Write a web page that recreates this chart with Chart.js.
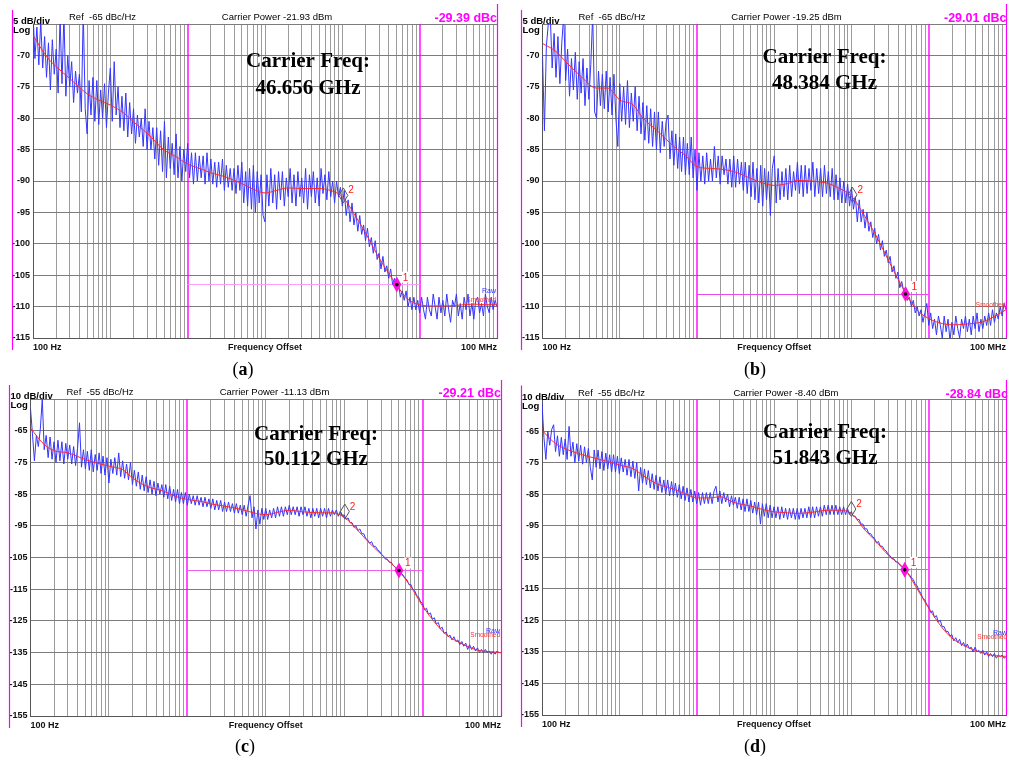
<!DOCTYPE html>
<html>
<head>
<meta charset="utf-8">
<title>Phase noise</title>
<script src="https://cdn.jsdelivr.net/npm/chart.js@4.4.0/dist/chart.umd.min.js"></script>
<style>
body{margin:0;background:#fff;width:1010px;height:760px;position:relative;overflow:hidden}
canvas{position:absolute}
</style>
</head>
<body>
<canvas id="pa" width="505" height="380" style="left:0;top:0"></canvas>
<canvas id="pb" width="505" height="380" style="left:505px;top:0"></canvas>
<canvas id="pc" width="505" height="380" style="left:0;top:380px"></canvas>
<canvas id="pd" width="505" height="380" style="left:505px;top:380px"></canvas>
<script>
// sample points of the raw trace: 40 per decade, 100 Hz .. 100 MHz
var rawMant = [1,1.059,1.122,1.189,1.259,1.334,1.413,1.496,1.585,1.679,1.778,1.884,1.995,2.113,2.239,2.371,2.512,2.661,2.818,2.985,
  3.162,3.350,3.548,3.758,3.981,4.217,4.467,4.732,5.012,5.309,5.623,5.957,6.310,6.683,7.079,7.499,7.943,8.414,8.913,9.441];
var decades = [100, 1e3, 1e4, 1e5, 1e6, 1e7];
var freqRaw = [];
decades.forEach(function(d){ rawMant.forEach(function(m){ freqRaw.push(m * d); }); });
freqRaw.push(1e8);

// offset frequencies of the smoothed trace (Hz)
var freqSm = [100,150,200,300,500,700,1e3,1.5e3,2e3,3e3,5e3,7e3,1e4,1.5e4,2e4,3e4,5e4,7e4,1e5,1.5e5,2e5,3e5,5e5,7e5,
  1e6,1.5e6,2e6,3e6,5e6,7e6,1e7,1.5e7,2e7,3e7,5e7,7e7,1e8];

// raw phase noise (dBc/Hz), one line per half decade
var rawA = [
  -63.0,-70.5,-65.5,-71.5,-64.5,-72.0,-67.0,-73.5,-68.0,-75.5,-67.5,-73.0,-69.0,-76.0,-64.0,-74.5,-63.5,-76.5,-70.0,-75.0,
  -71.0,-77.5,-72.5,-76.0,-73.0,-79.0,-63.0,-78.5,-82.5,-74.0,-79.5,-73.5,-80.5,-74.0,-81.0,-75.5,-80.0,-74.5,-81.5,-76.0,
  -72.0,-80.5,-71.0,-79.5,-75.0,-81.5,-76.5,-82.0,-76.0,-83.0,-77.5,-82.5,-78.5,-84.0,-79.5,-83.0,-80.0,-84.5,-78.5,-85.0,
  -80.5,-85.0,-81.5,-86.5,-81.5,-87.5,-82.0,-88.5,-80.5,-89.5,-83.0,-88.0,-84.0,-89.0,-82.5,-89.5,-84.5,-90.0,-85.0,-88.5,
  -84.0,-89.5,-85.5,-90.5,-85.5,-90.0,-86.0,-89.5,-86.0,-90.5,-85.5,-90.0,-86.5,-90.5,-87.0,-91.0,-87.0,-90.5,-86.5,-91.5,
  -87.5,-91.0,-88.0,-91.5,-88.0,-92.0,-87.5,-91.5,-87.0,-93.5,-88.5,-94.0,-88.0,-94.5,-87.5,-95.0,-88.5,-93.5,-89.0,-95.5,
  -96.5,-89.0,-94.0,-88.0,-93.5,-89.0,-94.5,-88.5,-93.0,-88.5,-94.0,-89.5,-92.5,-88.0,-93.5,-89.0,-94.0,-88.5,-92.5,-89.5,
  -93.5,-88.0,-94.5,-89.0,-92.5,-88.5,-93.5,-89.5,-94.0,-88.0,-92.0,-89.0,-93.0,-88.5,-92.5,-90.0,-93.5,-90.0,-92.5,-91.0,
  -94.0,-91.5,-95.5,-93.0,-96.5,-93.5,-97.0,-95.0,-98.0,-95.5,-98.5,-97.0,-99.5,-97.5,-100.5,-99.0,-101.5,-99.5,-102.5,-101.5,
  -104.0,-102.0,-104.5,-103.5,-105.5,-104.0,-106.5,-105.5,-107.5,-106.0,-108.5,-107.5,-109.0,-107.5,-110.0,-108.5,-110.5,-108.5,-110.5,-109.0,
  -111.0,-108.5,-110.5,-112.0,-108.5,-110.5,-111.5,-108.0,-110.0,-112.0,-108.5,-111.0,-109.0,-111.5,-108.0,-110.5,-112.5,-109.0,-110.0,-108.0,
  -111.5,-109.5,-112.0,-108.5,-110.5,-108.0,-111.5,-109.5,-112.0,-109.0,-108.5,-111.0,-109.5,-111.5,-108.0,-110.0,-111.0,-108.5,-110.5,-109.0,
  -110.0
];
var rawB = [
  -70.0,-82.0,-68.5,-65.0,-63.5,-72.0,-66.5,-73.5,-67.0,-74.5,-68.0,-63.5,-74.0,-69.0,-76.5,-70.5,-75.5,-69.5,-77.0,-71.0,
  -76.0,-70.5,-78.0,-72.0,-77.0,-71.5,-63.5,-79.0,-80.0,-72.5,-78.0,-73.0,-78.5,-72.5,-79.0,-73.5,-79.5,-73.0,-80.0,-84.5,
  -74.5,-80.5,-75.0,-81.0,-74.0,-81.5,-76.0,-80.5,-75.0,-82.0,-76.5,-82.5,-77.5,-83.5,-78.0,-84.0,-78.5,-84.5,-79.0,-85.0,
  -79.0,-85.5,-80.5,-84.5,-80.5,-79.5,-86.5,-82.0,-87.5,-82.5,-88.0,-83.0,-88.5,-83.0,-89.0,-84.0,-89.0,-83.0,-89.5,-85.0,
  -91.5,-85.5,-90.0,-86.0,-90.5,-85.5,-90.0,-86.5,-90.0,-84.5,-89.5,-86.0,-90.5,-86.0,-89.0,-86.5,-90.5,-86.5,-91.0,-86.0,
  -91.0,-86.5,-90.5,-87.0,-91.5,-87.0,-92.0,-87.5,-92.5,-87.0,-93.0,-88.0,-93.5,-87.5,-94.0,-88.0,-93.0,-88.5,-95.5,-88.0,
  -86.0,-93.5,-88.0,-93.0,-88.5,-92.5,-88.0,-93.0,-87.5,-92.5,-88.5,-91.5,-87.0,-92.0,-87.5,-92.5,-87.5,-92.0,-88.0,-91.5,
  -87.0,-92.5,-88.0,-92.0,-88.0,-92.5,-87.5,-92.0,-88.5,-92.5,-88.0,-93.0,-89.0,-93.0,-89.5,-93.5,-90.0,-93.5,-90.5,-94.0,
  -91.0,-94.5,-92.5,-96.5,-93.0,-96.5,-94.5,-97.5,-95.0,-98.0,-96.5,-99.0,-97.5,-100.0,-98.5,-101.0,-99.5,-102.0,-101.0,-103.0,
  -102.0,-104.5,-103.5,-105.5,-104.5,-107.0,-106.0,-107.5,-107.0,-109.0,-108.5,-110.0,-109.0,-111.0,-110.0,-111.5,-110.5,-112.5,-111.0,-109.5,
  -113.0,-111.0,-113.5,-112.0,-114.5,-111.5,-113.0,-115.0,-111.5,-114.0,-112.0,-115.5,-112.5,-114.5,-111.5,-113.5,-115.0,-112.0,-113.5,-111.5,
  -114.0,-112.0,-114.5,-111.5,-113.5,-111.0,-114.0,-112.0,-113.5,-111.5,-113.0,-111.0,-113.0,-110.5,-112.5,-111.0,-112.0,-110.0,-111.5,-109.5,
  -110.5
];
var rawC = [
  -58.0,-66.0,-74.5,-66.5,-70.0,-64.5,-55.0,-71.0,-66.5,-73.5,-67.0,-74.0,-68.5,-75.0,-68.0,-74.5,-68.5,-75.5,-69.0,-74.0,
  -69.5,-75.5,-70.0,-76.0,-70.5,-62.5,-76.5,-71.0,-77.0,-71.5,-77.5,-71.0,-78.0,-72.5,-77.5,-72.0,-78.5,-73.0,-79.0,-73.5,
  -81.5,-74.0,-78.5,-73.5,-79.0,-72.0,-79.5,-74.5,-80.0,-75.5,-80.5,-75.0,-82.0,-77.5,-82.5,-78.0,-83.5,-79.0,-84.0,-79.5,
  -84.5,-80.5,-85.0,-81.0,-85.5,-81.5,-85.0,-82.0,-86.0,-82.0,-86.5,-82.5,-87.0,-83.5,-87.5,-83.5,-88.0,-84.5,-88.0,-84.5,
  -88.5,-85.0,-88.0,-85.5,-88.5,-85.5,-88.5,-86.0,-89.0,-86.0,-89.0,-86.5,-89.5,-86.5,-90.0,-87.0,-90.0,-87.0,-90.5,-87.5,
  -90.5,-87.5,-90.5,-88.0,-91.0,-88.0,-91.0,-88.5,-91.5,-88.5,-92.0,-88.5,-85.5,-92.5,-89.0,-96.0,-90.0,-94.5,-89.5,-93.0,
  -89.5,-93.0,-90.0,-92.5,-89.5,-92.5,-89.0,-92.0,-89.0,-92.0,-89.0,-91.5,-88.5,-91.5,-89.0,-91.5,-89.0,-92.0,-89.0,-91.5,
  -89.0,-92.0,-89.5,-92.5,-89.5,-92.0,-89.5,-92.5,-89.5,-92.0,-89.5,-92.5,-89.5,-92.0,-90.0,-91.5,-90.0,-92.0,-90.5,-92.0,
  -91.5,-93.0,-92.5,-94.0,-94.0,-95.5,-95.0,-96.5,-96.0,-97.5,-97.5,-99.0,-99.5,-100.5,-100.0,-101.5,-101.5,-102.5,-103.0,-104.0,
  -104.5,-105.5,-105.5,-106.5,-106.5,-107.5,-108.0,-109.0,-109.0,-110.0,-110.5,-111.5,-112.0,-113.5,-113.5,-115.0,-115.5,-117.0,-117.5,-119.0,
  -119.5,-121.5,-121.0,-123.0,-122.5,-124.5,-124.0,-126.0,-125.5,-127.5,-127.0,-129.0,-128.5,-130.0,-129.5,-131.0,-130.0,-131.5,-131.0,-132.5,
  -131.5,-133.0,-132.0,-134.0,-132.5,-134.0,-133.0,-134.5,-133.5,-135.0,-134.0,-135.0,-134.0,-135.0,-134.5,-135.5,-134.5,-135.5,-134.5,-135.0,
  -135.0
];
var rawD = [
  -56.0,-67.0,-74.0,-65.0,-69.5,-64.5,-63.0,-71.5,-66.5,-73.0,-67.0,-72.5,-67.5,-74.0,-63.5,-73.0,-68.5,-75.0,-69.0,-74.5,
  -69.5,-75.5,-70.0,-75.0,-70.5,-76.5,-80.5,-71.0,-76.5,-71.0,-77.0,-71.5,-77.5,-72.0,-77.0,-72.5,-78.0,-72.5,-78.0,-73.0,
  -78.5,-73.5,-78.0,-74.0,-79.0,-74.0,-79.5,-74.5,-80.0,-75.0,-84.0,-76.5,-81.5,-77.0,-82.0,-77.5,-83.0,-78.5,-83.5,-79.0,
  -84.0,-79.5,-84.5,-80.5,-85.0,-80.5,-85.5,-81.0,-85.5,-81.5,-86.0,-82.0,-86.5,-82.5,-87.0,-83.0,-87.5,-83.5,-87.5,-84.0,
  -88.0,-84.5,-88.5,-84.5,-88.0,-84.5,-88.0,-84.5,-88.0,-84.0,-82.5,-87.5,-84.0,-88.0,-84.5,-87.5,-85.0,-89.0,-85.5,-88.5,
  -86.0,-89.5,-86.0,-90.0,-86.5,-90.5,-86.5,-90.5,-87.0,-91.0,-87.5,-91.5,-87.5,-94.5,-88.0,-92.0,-88.0,-92.5,-88.5,-92.5,
  -89.0,-92.5,-89.0,-93.0,-89.0,-92.5,-89.5,-93.0,-89.5,-92.5,-89.5,-93.0,-89.5,-93.0,-89.5,-92.5,-89.5,-92.5,-89.0,-92.5,
  -89.0,-92.5,-89.0,-92.0,-89.0,-92.0,-88.5,-91.5,-88.5,-91.5,-88.5,-91.5,-88.5,-91.5,-89.0,-91.5,-89.0,-91.5,-89.5,-91.5,
  -90.5,-92.0,-92.0,-93.0,-93.0,-94.5,-94.5,-96.0,-96.0,-97.5,-97.5,-98.5,-99.0,-100.5,-100.0,-101.5,-101.5,-102.5,-103.0,-104.0,
  -104.5,-105.5,-105.5,-106.5,-106.5,-107.5,-108.0,-108.5,-108.5,-110.0,-110.5,-111.5,-112.0,-113.5,-114.0,-115.5,-116.5,-118.0,-118.5,-120.0,
  -120.5,-122.5,-122.0,-124.0,-123.5,-125.5,-125.0,-127.0,-127.0,-128.5,-128.5,-130.0,-129.5,-131.5,-130.5,-132.0,-131.0,-133.0,-132.0,-133.5,
  -132.5,-134.0,-133.5,-135.0,-133.5,-135.0,-134.5,-135.5,-134.5,-136.0,-135.0,-136.5,-135.5,-136.5,-135.5,-137.0,-136.0,-136.5,-136.0,-137.0,
  -136.5
];

// smoothed phase noise (dBc/Hz)
var smA = [-66.8,-70.2,-71.8,-73.7,-76.1,-77.1,-77.9,-79.2,-80.6,-82.4,-85.1,-86.1,-87.3,-88.1,-88.7,-89.3,-90.4,-91.3,-91.9,-91.4,-91.1,-91.2,-91.2,-91.5,
  -92.5,-95.7,-98.3,-102.3,-106.5,-108.8,-109.7,-109.9,-109.9,-109.8,-109.6,-109.7,-109.7];
var smB = [-68.1,-69.4,-71.0,-73.1,-75.2,-75.2,-77.1,-77.9,-80.0,-81.9,-84.5,-85.9,-87.7,-88.0,-88.1,-88.5,-89.6,-90.3,-90.7,-90.4,-89.9,-90.0,-90.4,-91.2,
  -92.4,-95.7,-98.3,-102.6,-107.8,-110.5,-111.9,-112.7,-112.9,-112.8,-112.4,-111.6,-110.5];
var smC = [-64.2,-69.4,-71.3,-72.0,-74.1,-75.2,-76.2,-77.3,-79.9,-82.5,-84.1,-85.7,-86.7,-87.3,-88.1,-88.8,-89.9,-90.9,-91.5,-90.6,-90.1,-90.6,-90.9,-90.9,
  -92.3,-96.5,-99.9,-104.1,-109.3,-114.0,-120.3,-126.1,-129.3,-131.9,-134.2,-134.7,-135.0];
var smD = [-64.8,-69.0,-70.6,-72.2,-73.7,-74.6,-75.8,-76.9,-79.0,-81.6,-83.4,-84.8,-86.2,-86.2,-85.8,-87.6,-88.8,-89.8,-90.6,-90.9,-91.1,-90.8,-90.1,-90.1,
  -91.1,-96.4,-99.5,-104.3,-109.0,-114.8,-121.1,-127.4,-130.6,-133.2,-135.3,-136.2,-136.4];

// markers and integration limits
var m1Freq = [5.07e6, 5.0e6, 5.0e6, 4.9e6];
var m1Db = [-106.5, -108.0, -109.1, -109.0];
var m2Freq = [1.03e6, 1.03e6, 1.02e6, 1.0e6];
var m2Db = [-92.3, -92.2, -90.5, -89.7];
var intFreq = [1e4, 1e7];

// axis ranges and labels
var yMin = [-115, -115, -155, -155];
var yMax = [-65, -65, -55, -55];
var yStep = [5, 5, 10, 10];
var xTickVals = [100, 1e5, 1e8];
var xTickText = ['100 Hz', 'Frequency Offset', '100 MHz'];
var divLabels = ['5 dB/div', '5 dB/div', '10 dB/div', '10 dB/div'];
var refLabels = ['Ref  -65 dBc/Hz', 'Ref  -65 dBc/Hz', 'Ref  -55 dBc/Hz', 'Ref  -55 dBc/Hz'];
var powerLabels = ['Carrier Power -21.93 dBm', 'Carrier Power -19.25 dBm', 'Carrier Power -11.13 dBm', 'Carrier Power -8.40 dBm'];
var dbcLabels = ['-29.39 dBc', '-29.01 dBc', '-29.21 dBc', '-28.84 dBc'];
var freqLabels = ['46.656 GHz', '48.384 GHz', '50.112 GHz', '51.843 GHz'];
var captions = ['a', 'b', 'c', 'd'];

var SANS = '"Liberation Sans", Arial, sans-serif';
var SERIF = '"Liberation Serif", "Times New Roman", serif';
var MAGENTA = '#ff00ff';

// layout of each panel inside its canvas
var panels = [
  {el:'pa', raw:rawA, sm:smA, l:33,   t:24,   r:497,   b:338, fx:308,   f1:67, f2:94, cap:[243,375], rawY:293, smY:302, hColor:'#ff9cff'},
  {el:'pb', raw:rawB, sm:smB, l:37.5, t:24,   r:501.5, b:338, fx:319.5, f1:63, f2:89, cap:[250,375], rawY:null, smY:307, hColor:'#e84ae8'},
  {el:'pc', raw:rawC, sm:smC, l:30.5, t:19,   r:501,   b:336, fx:316,   f1:60, f2:85, cap:[245,372], rawY:253, smY:257, hColor:'#f060f0'},
  {el:'pd', raw:rawD, sm:smD, l:37,   t:19.5, r:503,   b:335, fx:320,   f1:58, f2:84, cap:[250,372], rawY:255, smY:259, hColor:'#d860d8'}
];

// vertical grid: 1..9 per decade
var gridFreq = [];
decades.forEach(function(d){
  for (var m = 1; m <= 9; m++) gridFreq.push(m * d);
});
gridFreq.push(1e8);

// pixel snapping for 1px lines
function snap(v){ return Math.round(v - 0.5) + 0.5; }

function vline(ctx, x, y0, y1){
  ctx.beginPath(); ctx.moveTo(x, y0); ctx.lineTo(x, y1); ctx.stroke();
}

function diamond(ctx, x, y, w, h){
  ctx.beginPath();
  ctx.moveTo(x, y - h); ctx.lineTo(x + w, y); ctx.lineTo(x, y + h); ctx.lineTo(x - w, y);
  ctx.closePath();
}

function makeDeco(p, i){
  return {
    id: 'deco' + i,
    beforeDatasetsDraw: function(chart){
      var ctx = chart.ctx, xs = chart.scales.x, ys = chart.scales.y, a = chart.chartArea;
      ctx.save();
      ctx.lineWidth = 1.4;
      ctx.strokeStyle = MAGENTA;
      intFreq.forEach(function(f){
        vline(ctx, Math.round(xs.getPixelForValue(f)), a.top, a.bottom);
      });
      // level of marker 1 across the integration range
      var hy = snap(ys.getPixelForValue(m1Db[i]));
      ctx.lineWidth = 1;
      ctx.strokeStyle = p.hColor;
      ctx.beginPath();
      ctx.moveTo(xs.getPixelForValue(intFreq[0]), hy);
      ctx.lineTo(xs.getPixelForValue(intFreq[1]), hy);
      ctx.stroke();
      ctx.restore();
    },
    afterDraw: function(chart){
      var ctx = chart.ctx, xs = chart.scales.x, ys = chart.scales.y;
      ctx.save();
      // magenta frame lines
      ctx.strokeStyle = MAGENTA; ctx.lineWidth = 1.2;
      vline(ctx, snap(p.l - 21), p.t - 14, p.b + 12);
      vline(ctx, snap(xs.getPixelForValue(1e8)), p.t - 20, p.b);

      // header
      ctx.fillStyle = '#000'; ctx.textBaseline = 'alphabetic';
      ctx.textAlign = 'left';
      ctx.font = 'bold 9.5px ' + SANS;
      ctx.fillText(divLabels[i], p.l - 20, p.t);
      ctx.fillText('Log', p.l - 20, p.t + 9);
      ctx.font = '9.5px ' + SANS;
      ctx.fillText(refLabels[i], p.l + 36, p.t - 4);
      ctx.textAlign = 'center';
      ctx.fillText(powerLabels[i], p.l + 244, p.t - 4);
      ctx.textAlign = 'right';
      ctx.fillStyle = '#ff00ff';
      ctx.font = 'bold 12.5px ' + SANS;
      ctx.fillText(dbcLabels[i], p.r, p.t - 2);

      // carrier frequency note
      ctx.fillStyle = '#000'; ctx.textAlign = 'center';
      ctx.font = 'bold 21px ' + SERIF;
      ctx.fillText('Carrier Freq:', p.fx, p.f1);
      ctx.fillText(freqLabels[i], p.fx, p.f2);

      // trace names at the right edge
      ctx.textAlign = 'right';
      if (p.rawY !== null) {
        ctx.fillStyle = '#3030ff'; ctx.font = '7px ' + SANS;
        ctx.fillText('Raw', p.r - 1, p.rawY);
      }
      ctx.fillStyle = '#ff3030'; ctx.font = '6.5px ' + SANS;
      ctx.fillText('Smoothed', p.r - 1, p.smY);

      // marker 2 (open) and marker 1 (filled)
      var x2 = xs.getPixelForValue(m2Freq[i]), y2 = ys.getPixelForValue(m2Db[i]);
      diamond(ctx, x2, y2, 4.5, 7.5);
      ctx.strokeStyle = '#555'; ctx.lineWidth = 1; ctx.stroke();
      var x1 = xs.getPixelForValue(m1Freq[i]), y1 = ys.getPixelForValue(m1Db[i]);
      diamond(ctx, x1, y1, 4.5, 8);
      ctx.fillStyle = '#ff10e0'; ctx.fill();
      ctx.beginPath(); ctx.arc(x1, y1, 1.8, 0, Math.PI * 2);
      ctx.fillStyle = '#000'; ctx.fill();

      ctx.font = '10px ' + SANS; ctx.textAlign = 'left';
      ctx.fillStyle = '#fff';
      ctx.fillRect(x1 + 5, y1 - 13, 8, 11);
      ctx.fillStyle = '#ff1a1a';
      ctx.fillText('1', x1 + 6, y1 - 4);
      ctx.fillText('2', x2 + 5, y2 - 2);

      // caption (a), (b) ...
      ctx.fillStyle = '#000';
      var fN = '18px ' + SERIF, fB = 'bold 18px ' + SERIF;
      ctx.font = fN; var wo = ctx.measureText('(').width, wc = ctx.measureText(')').width;
      ctx.font = fB; var wl = ctx.measureText(captions[i]).width;
      var cx = p.cap[0] - (wo + wl + wc) / 2, cy = p.cap[1];
      ctx.textAlign = 'left';
      ctx.font = fN; ctx.fillText('(', cx, cy);
      ctx.font = fB; ctx.fillText(captions[i], cx + wo, cy);
      ctx.font = fN; ctx.fillText(')', cx + wo + wl, cy);
      ctx.restore();
    }
  };
}

panels.forEach(function(p, i){
  var cv = document.getElementById(p.el);
  var W = cv.width, H = cv.height;
  new Chart(cv, {
    type: 'line',
    data: {
      datasets: [
        {
          data: freqSm.map(function(f, k){ return {x: f, y: p.sm[k]}; }),
          borderColor: '#ff2a2a', borderWidth: 1, pointRadius: 0,
          cubicInterpolationMode: 'monotone', clip: 0
        },
        {
          data: freqRaw.map(function(f, k){ return {x: f, y: p.raw[k]}; }),
          borderColor: '#3535ff', borderWidth: 1, pointRadius: 0,
          tension: 0, clip: 0
        }
      ]
    },
    options: {
      responsive: false,
      animation: false,
      devicePixelRatio: 1,
      events: [],
      layout: {padding: {left: 0, top: p.t, right: W - p.r, bottom: 0}},
      plugins: {legend: {display: false}, tooltip: {enabled: false}},
      scales: {
        x: {
          type: 'logarithmic', min: 100, max: 1e8,
          afterBuildTicks: function(s){ s.ticks = gridFreq.map(function(v){ return {value: v}; }); },
          afterFit: function(s){ s.height = H - p.b; },
          grid: {
            // no gray line where a magenta line is drawn
            color: function(c){
              var v = c.tick && c.tick.value;
              return (intFreq.indexOf(v) >= 0 || v === 1e8) ? 'rgba(0,0,0,0)' : '#9c9c9c';
            },
            lineWidth: 1, drawTicks: false
          },
          border: {color: '#555', width: 1},
          ticks: {
            autoSkip: false, maxRotation: 0, minRotation: 0, align: 'inner', padding: 4,
            color: '#111', font: {family: SANS, size: 9, weight: 'bold'},
            callback: function(v){
              var k = xTickVals.indexOf(v);
              return k < 0 ? '' : xTickText[k];
            }
          }
        },
        y: {
          type: 'linear', min: yMin[i], max: yMax[i],
          afterFit: function(s){ s.width = p.l; },
          grid: {color: '#7c7c7c', lineWidth: 1, drawTicks: false},
          border: {color: '#555', width: 1},
          ticks: {
            stepSize: yStep[i], padding: 3, color: '#111',
            font: {family: SANS, size: 9, weight: 'bold'},
            callback: function(v){ return v === yMax[i] ? '' : String(v); }
          }
        }
      }
    },
    plugins: [makeDeco(p, i)]
  });
});
</script>
</body>
</html>
